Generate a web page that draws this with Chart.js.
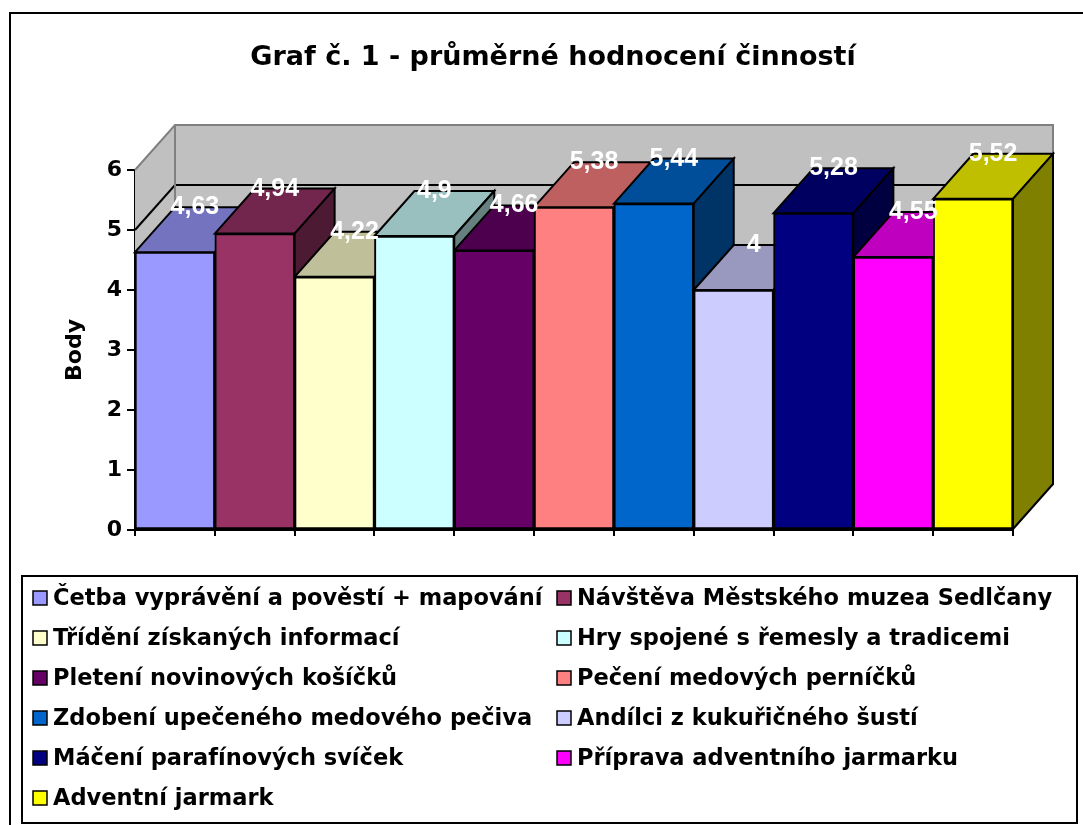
<!DOCTYPE html>
<html>
<head>
<meta charset="utf-8">
<script src="https://cdn.jsdelivr.net/npm/chart.js@4"></script>
<style>
  body { margin: 0; background: #fff; }
  #wrap { width: 1083px; height: 825px; }
</style>
</head>
<body>
<div id="wrap"><canvas id="graf"></canvas></div>
<script>
// data
var categories = [
  'Četba vyprávění a pověstí + mapování',
  'Návštěva Městského muzea Sedlčany',
  'Třídění získaných informací',
  'Hry spojené s řemesly a tradicemi',
  'Pletení novinových košíčků',
  'Pečení medových perníčků',
  'Zdobení upečeného medového pečiva',
  'Andílci z kukuřičného šustí',
  'Máčení parafínových svíček',
  'Příprava adventního jarmarku',
  'Adventní jarmark'
];
var values = [4.63, 4.94, 4.22, 4.9, 4.66, 5.38, 5.44, 4, 5.28, 4.55, 5.52];
var barColors = ['#9999FF', '#993366', '#FFFFCC', '#CCFFFF', '#660066', '#FF8080',
                 '#0066CC', '#CCCCFF', '#000080', '#FF00FF', '#FFFF00'];
var chartTitle = 'Graf č. 1 - průměrné hodnocení činností';
var axisTitle = 'Body';

var FONT = "'DejaVu Sans', sans-serif";
var LABEL_FONT = "'Liberation Sans', Arial, sans-serif";
var DX = 40, DY = 45;   // depth of the 3d look

Chart.defaults.font.family = FONT;
Chart.defaults.color = '#000';

function shade(hex, f) {
  var n = parseInt(hex.slice(1), 16);
  var r = Math.round(((n >> 16) & 255) * f);
  var g = Math.round(((n >> 8) & 255) * f);
  var b = Math.round((n & 255) * f);
  return 'rgb(' + r + ',' + g + ',' + b + ')';
}

function poly(ctx, pts, fill, stroke, lw) {
  ctx.beginPath();
  ctx.moveTo(pts[0][0], pts[0][1]);
  for (var i = 1; i < pts.length; i++) ctx.lineTo(pts[i][0], pts[i][1]);
  ctx.closePath();
  if (fill) { ctx.fillStyle = fill; ctx.fill(); }
  if (stroke) { ctx.strokeStyle = stroke; ctx.lineWidth = lw || 2; ctx.stroke(); }
}

// walls, back gridlines and the top / side faces of the bars
var depthPlugin = {
  id: 'depth',
  beforeDatasetsDraw: function(chart) {
    var ctx = chart.ctx, a = chart.chartArea, ys = chart.scales.y;
    var top = ys.getPixelForValue(ys.max), bot = ys.getPixelForValue(ys.min);
    ctx.save();
    poly(ctx, [[a.left + DX, top - DY], [a.right + DX, top - DY], [a.right + DX, bot - DY], [a.left + DX, bot - DY]], '#C0C0C0');
    poly(ctx, [[a.left, top], [a.left + DX, top - DY], [a.left + DX, bot - DY], [a.left, bot]], '#C0C0C0');

    ctx.strokeStyle = '#000';
    ctx.lineWidth = 2;
    ys.ticks.forEach(function(t) {
      if (t.value >= ys.max) return;
      var y = ys.getPixelForValue(t.value);
      ctx.beginPath();
      ctx.moveTo(a.left, y);
      ctx.lineTo(a.left + DX, y - DY);
      ctx.lineTo(a.right + DX, y - DY);
      ctx.stroke();
    });

    ctx.strokeStyle = '#808080';
    ctx.beginPath();
    ctx.moveTo(a.left, top);
    ctx.lineTo(a.left + DX, top - DY);
    ctx.lineTo(a.right + DX, top - DY);
    ctx.lineTo(a.right + DX, bot - DY);
    ctx.moveTo(a.left + DX, top - DY);
    ctx.lineTo(a.left + DX, bot - DY);
    ctx.stroke();

    var meta = chart.getDatasetMeta(0);
    meta.data.forEach(function(bar, i) {
      var p = bar.getProps(['x', 'y', 'base', 'width'], true);
      var l = p.x - p.width / 2, r = p.x + p.width / 2;
      var c = chart.data.datasets[0].backgroundColor[i];
      poly(ctx, [[l, p.y], [l + DX, p.y - DY], [r + DX, p.y - DY], [r, p.y]], shade(c, 0.75), '#000', 2);
      poly(ctx, [[r, p.y], [r + DX, p.y - DY], [r + DX, p.base - DY], [r, p.base]], shade(c, 0.5), '#000', 2);
    });
    ctx.restore();
  },
  afterDatasetsDraw: function(chart) {
    var ctx = chart.ctx;
    var meta = chart.getDatasetMeta(0);
    ctx.save();
    ctx.fillStyle = '#fff';
    ctx.font = 'bold 25px ' + LABEL_FONT;
    ctx.textAlign = 'center';
    ctx.textBaseline = 'alphabetic';
    meta.data.forEach(function(bar, i) {
      var txt = String(chart.data.datasets[0].data[i]).replace('.', ',');
      ctx.fillText(txt, bar.x + DX / 2, bar.y - DY + 7);
    });
    ctx.restore();
  }
};

// legend box in two columns and the outer frame
var legendBox = {
  id: 'legendBox',
  afterDraw: function(chart) {
    var ctx = chart.ctx;
    ctx.save();
    ctx.strokeStyle = '#000';
    ctx.lineWidth = 2;
    ctx.strokeRect(10, 13, 1100, 900);
    ctx.strokeRect(22, 576, 1055, 247);

    ctx.font = 'bold 22.5px ' + FONT;
    ctx.textBaseline = 'middle';
    ctx.textAlign = 'left';
    chart.data.labels.forEach(function(lab, i) {
      var col = i % 2, row = Math.floor(i / 2);
      var x = col === 0 ? 33 : 557;
      var y = 598 + row * 40;
      ctx.fillStyle = chart.data.datasets[0].backgroundColor[i];
      ctx.fillRect(x, y - 7, 14, 14);
      ctx.lineWidth = 1.5;
      ctx.strokeRect(x, y - 7, 14, 14);
      ctx.fillStyle = '#000';
      ctx.fillText(lab, x + 20, y + 1);
    });
    ctx.restore();
  }
};

var ctx = document.getElementById('graf').getContext('2d');
window.myBar = new Chart(ctx, {
  type: 'bar',
  data: {
    labels: categories,
    datasets: [{
      data: values,
      backgroundColor: barColors,
      borderColor: '#000',
      borderWidth: 2,
      borderSkipped: false,
      barPercentage: 1,
      categoryPercentage: 1
    }]
  },
  options: {
    responsive: true,
    maintainAspectRatio: false,
    animation: false,
    events: [],
    layout: { padding: { left: 23, right: 0, top: 0, bottom: 285 } },
    plugins: {
      legend: { display: false },
      tooltip: { enabled: false },
      title: {
        display: true,
        text: chartTitle,
        color: '#000',
        font: { size: 27, weight: 'bold' },
        padding: { top: 42, bottom: 95.6 }
      }
    },
    scales: {
      x: {
        ticks: { display: false },
        grid: { offset: true, drawOnChartArea: false, color: '#000', lineWidth: 2, tickLength: 6 },
        border: { color: '#000', width: 2 },
        afterFit: function(s) { s.height = 10; }
      },
      y: {
        min: 0,
        max: 6,
        ticks: { stepSize: 1, color: '#000', padding: 5, font: { size: 22, weight: 'bold' } },
        grid: { drawOnChartArea: false, color: '#000', lineWidth: 2, tickLength: 8 },
        border: { color: '#000', width: 2 },
        title: {
          display: true,
          text: axisTitle,
          color: '#000',
          font: { size: 22, weight: 'bold' },
          padding: { top: 39, bottom: 0 }
        },
        afterFit: function(s) { s.width = 112; }
      },
      y2: {
        position: 'right',
        min: 0,
        max: 6,
        ticks: { display: false },
        grid: { display: false },
        border: { display: false },
        afterFit: function(s) { s.width = 70; }
      }
    }
  },
  plugins: [depthPlugin, legendBox]
});
</script>
</body>
</html>
